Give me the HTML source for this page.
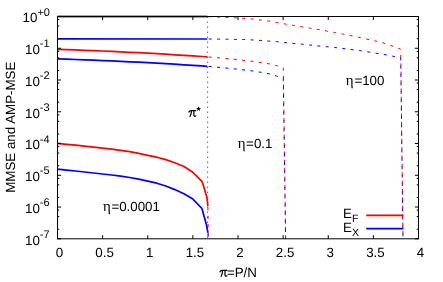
<!DOCTYPE html>
<html><head><meta charset="utf-8"><title>plot</title>
<style>html,body{margin:0;padding:0;background:#fff;}body{width:443px;height:282px;overflow:hidden;}svg{display:block;}text{font-family:"Liberation Sans",sans-serif;text-rendering:geometricPrecision;}</style></head><body>
<svg width="443" height="282" viewBox="0 0 443 282">
<rect width="443" height="282" fill="#fff"/>
<g fill="none" stroke-linejoin="round">
<path d="M207.65,16.59 V238.8" stroke="#505050" stroke-width="1" stroke-dasharray="1.3 3.7"/>
<path d="M207.5,16.6 L218.5,17.1 L226.7,17.4 L234.8,17.8 L243.3,18.3 L251.6,19.0 L260.1,19.9 L268.2,21.0 L276.7,22.5 L284.7,23.9 L293.4,25.4 L301.3,26.7 L309.7,28.1 L317.9,29.4 L326.1,30.9 L334.5,32.5 L342.9,34.1 L349.5,35.4 L358.2,37.1 L366.3,39.0 L374.0,40.7 L382.1,42.6 L390.3,45.3 L398.2,48.3 L400.7,49.2 L403.0,238.8" stroke="#ff0000" stroke-width="1" stroke-dasharray="3 5.38" stroke-dashoffset="-1.2"/>
<path d="M207.5,39.0 L218.5,39.1 L226.7,39.2 L234.8,39.4 L243.3,39.5 L251.6,39.9 L260.1,40.4 L268.2,41.0 L276.7,41.7 L284.7,42.6 L293.4,43.4 L301.3,44.1 L309.7,45.0 L317.9,45.9 L326.1,46.7 L334.5,47.5 L342.9,48.5 L350.0,49.4 L359.2,50.5 L367.4,51.8 L375.3,53.1 L384.0,54.5 L392.3,56.1 L400.7,57.8 L403.0,238.8" stroke="#0000ff" stroke-width="1" stroke-dasharray="3 5.38" stroke-dashoffset="-1.2"/>
<path d="M207.5,56.9 L230.0,58.8 L250.0,61.0 L266.6,63.3 L276.5,65.6 L283.3,67.8 L285.6,238.8" stroke="#ff0000" stroke-width="1" stroke-dasharray="3 5.38" stroke-dashoffset="-1.2"/>
<path d="M207.5,66.3 L230.0,68.4 L250.0,70.6 L266.6,73.2 L276.5,76.0 L283.3,78.6 L285.6,238.8" stroke="#0000ff" stroke-width="1" stroke-dasharray="3 5.38" stroke-dashoffset="-1.2"/>
<path d="M207.9,206.2 L208.3,238.8" stroke="#ff0000" stroke-width="1" stroke-dasharray="3 5.38" stroke-dashoffset="-1.2"/>
<path d="M207.9,232.6 L208.3,238.8" stroke="#0000ff" stroke-width="1" stroke-dasharray="3 5.38" stroke-dashoffset="-1.2"/>
<path d="M57.5,16.5 L207.3,16.5" stroke="#ff0000" stroke-width="2.1"/>
<path d="M57.5,38.9 L207.3,39.0" stroke="#0000ff" stroke-width="1.7"/>
<path d="M57.5,49.3 L66.5,49.6 L75.5,49.9 L84.6,50.3 L93.6,50.6 L102.6,51.0 L111.7,51.4 L120.7,51.8 L129.7,52.3 L138.7,52.7 L147.8,53.2 L156.8,53.7 L165.8,54.2 L174.8,54.8 L183.9,55.4 L192.9,55.9 L201.9,56.5 L207.3,56.9" stroke="#ff0000" stroke-width="1.7"/>
<path d="M57.5,58.9 L66.5,59.2 L75.5,59.5 L84.6,59.8 L93.6,60.2 L102.6,60.6 L111.7,60.9 L120.7,61.4 L129.7,61.8 L138.7,62.2 L147.8,62.7 L156.8,63.2 L165.8,63.7 L174.8,64.2 L183.9,64.8 L192.9,65.4 L201.9,65.9 L207.3,66.3" stroke="#0000ff" stroke-width="1.7"/>
<path d="M57.5,143.4 L66.5,144.3 L75.5,145.2 L84.6,146.2 L93.6,147.2 L102.6,148.2 L111.7,149.2 L120.7,150.4 L129.7,151.7 L138.7,153.4 L147.8,155.3 L156.8,157.2 L165.8,159.6 L174.8,162.7 L183.9,166.5 L192.9,172.3 L201.9,181.4 L202.5,182.4 L206.9,197.4 L207.9,206.2" stroke="#ff0000" stroke-width="1.7"/>
<path d="M57.5,169.2 L66.5,170.1 L75.5,171.0 L84.6,172.0 L93.6,173.0 L102.6,174.0 L111.7,175.0 L120.7,176.2 L129.7,177.5 L138.7,179.2 L147.8,181.1 L156.8,183.2 L165.8,186.0 L174.8,189.6 L183.9,193.7 L192.9,199.1 L201.9,208.5 L206.5,225.0 L207.9,232.6" stroke="#0000ff" stroke-width="1.7"/>
<path d="M366.2,215.3 H403.4" stroke="#ff0000" stroke-width="1.7"/>
<path d="M366.2,228.7 H403.4" stroke="#0000ff" stroke-width="1.7"/>
</g>
<g fill="none" stroke="#000" stroke-width="1">
<rect x="57.5" y="16.5" width="361.0" height="222.3"/>
<path d="M57.50,238.8 v-3.6 M57.50,16.5 v3.6 M102.62,238.8 v-3.6 M102.62,16.5 v3.6 M147.75,238.8 v-3.6 M147.75,16.5 v3.6 M192.88,238.8 v-3.6 M192.88,16.5 v3.6 M238.00,238.8 v-3.6 M238.00,16.5 v3.6 M283.12,238.8 v-3.6 M283.12,16.5 v3.6 M328.25,238.8 v-3.6 M328.25,16.5 v3.6 M373.38,238.8 v-3.6 M373.38,16.5 v3.6 M418.50,238.8 v-3.6 M418.50,16.5 v3.6 M57.5,16.50 h3.6 M418.5,16.50 h-3.6 M57.5,38.70 h1.8 M418.5,38.70 h-1.8 M57.5,26.06 h1.8 M418.5,26.06 h-1.8 M57.5,19.58 h1.8 M418.5,19.58 h-1.8 M57.5,48.26 h3.6 M418.5,48.26 h-3.6 M57.5,70.45 h1.8 M418.5,70.45 h-1.8 M57.5,57.82 h1.8 M418.5,57.82 h-1.8 M57.5,51.33 h1.8 M418.5,51.33 h-1.8 M57.5,80.01 h3.6 M418.5,80.01 h-3.6 M57.5,102.21 h1.8 M418.5,102.21 h-1.8 M57.5,89.57 h1.8 M418.5,89.57 h-1.8 M57.5,83.09 h1.8 M418.5,83.09 h-1.8 M57.5,111.77 h3.6 M418.5,111.77 h-3.6 M57.5,133.97 h1.8 M418.5,133.97 h-1.8 M57.5,121.33 h1.8 M418.5,121.33 h-1.8 M57.5,114.85 h1.8 M418.5,114.85 h-1.8 M57.5,143.53 h3.6 M418.5,143.53 h-3.6 M57.5,165.73 h1.8 M418.5,165.73 h-1.8 M57.5,153.09 h1.8 M418.5,153.09 h-1.8 M57.5,146.61 h1.8 M418.5,146.61 h-1.8 M57.5,175.29 h3.6 M418.5,175.29 h-3.6 M57.5,197.48 h1.8 M418.5,197.48 h-1.8 M57.5,184.85 h1.8 M418.5,184.85 h-1.8 M57.5,178.36 h1.8 M418.5,178.36 h-1.8 M57.5,207.04 h3.6 M418.5,207.04 h-3.6 M57.5,229.24 h1.8 M418.5,229.24 h-1.8 M57.5,216.60 h1.8 M418.5,216.60 h-1.8 M57.5,210.12 h1.8 M418.5,210.12 h-1.8 M57.5,238.80 h3.6 M418.5,238.80 h-3.6"/>
</g>
<defs><filter id="idn" x="0" y="0" width="443" height="282" filterUnits="userSpaceOnUse" color-interpolation-filters="sRGB"><feOffset dx="0" dy="0"/></filter></defs>
<g font-size="13.33" filter="url(#idn)" fill="#000">
<text x="59.5" y="256.6" text-anchor="middle">0</text>
<text x="104.6" y="256.6" text-anchor="middle">0.5</text>
<text x="149.8" y="256.6" text-anchor="middle">1</text>
<text x="194.9" y="256.6" text-anchor="middle">1.5</text>
<text x="240.0" y="256.6" text-anchor="middle">2</text>
<text x="285.1" y="256.6" text-anchor="middle">2.5</text>
<text x="330.2" y="256.6" text-anchor="middle">3</text>
<text x="375.4" y="256.6" text-anchor="middle">3.5</text>
<text x="420.5" y="256.6" text-anchor="middle">4</text>
<text x="22.6" y="22.4">10<tspan font-size="11" dy="-6.9">+0</tspan></text>
<text x="25.0" y="54.2">10<tspan font-size="11" dy="-6.9">-1</tspan></text>
<text x="25.0" y="85.9">10<tspan font-size="11" dy="-6.9">-2</tspan></text>
<text x="25.0" y="117.7">10<tspan font-size="11" dy="-6.9">-3</tspan></text>
<text x="25.0" y="149.4">10<tspan font-size="11" dy="-6.9">-4</tspan></text>
<text x="25.0" y="181.2">10<tspan font-size="11" dy="-6.9">-5</tspan></text>
<text x="25.0" y="212.9">10<tspan font-size="11" dy="-6.9">-6</tspan></text>
<text x="25.0" y="244.7">10<tspan font-size="11" dy="-6.9">-7</tspan></text>
<text x="226.9" y="276.6">=P/N</text>
<text transform="translate(15,127.2) rotate(-90)" text-anchor="middle">MMSE and AMP-MSE</text>
<path d="M188.9,112.0 C189.4,110.6 190.2,110.5 191.2,110.5 L195.7,110.5 M191.5,110.6 C191.4,112.8 191.1,115 190.0,116.4 M194.0,110.6 C193.9,112.6 193.6,114.6 194.0,115.6 C194.3,116.4 195.1,116.5 195.8,115.9" fill="none" stroke="#000" stroke-width="1.25" stroke-linecap="round"/>
<path d="M188.9,112.0 C189.4,110.6 190.2,110.5 191.2,110.5 L195.7,110.5 M191.5,110.6 C191.4,112.8 191.1,115 190.0,116.4 M194.0,110.6 C193.9,112.6 193.6,114.6 194.0,115.6 C194.3,116.4 195.1,116.5 195.8,115.9" transform="translate(31.1,159.9)" fill="none" stroke="#000" stroke-width="1.25" stroke-linecap="round"/>
<polygon points="198.60,106.20 199.27,107.98 201.17,108.07 199.68,109.25 200.19,111.08 198.60,110.03 197.01,111.08 197.52,109.25 196.03,108.07 197.93,107.98"/>
<text y="147.5"><tspan x="237.8" font-family="Liberation Serif" font-size="15">η</tspan><tspan x="246.1">=0.1</tspan></text>
<text y="84.7"><tspan x="345.8" font-family="Liberation Serif" font-size="15">η</tspan><tspan x="354.4">=100</tspan></text>
<text y="211.3"><tspan x="103" font-family="Liberation Serif" font-size="15">η</tspan><tspan x="111.4">=0.0001</tspan></text>
<text x="342.9" y="217.7">E<tspan font-size="10.6" dx="0.3" dy="4">F</tspan></text>
<text x="342.9" y="231.6">E<tspan font-size="10.6" dx="0.3" dy="4">X</tspan></text>
</g>
</svg></body></html>
